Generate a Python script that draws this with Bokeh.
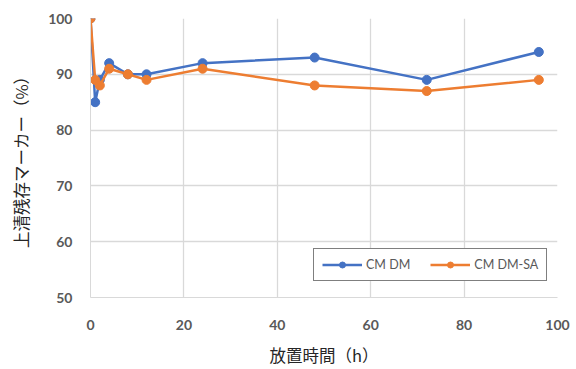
from bokeh.plotting import figure
from bokeh.models import Range1d, Legend, LegendItem, FixedTicker
from bokeh.embed import file_html
from bokeh.resources import INLINE

# elapsed time (h) and residual marker in supernatant (%)
hours = [0, 1, 2, 4, 8, 12, 24, 48, 72, 96]
cmdm = [100, 85, 89, 92, 90, 90, 92, 93, 89, 94]
cmdm_sa = [100, 89, 88, 91, 90, 89, 91, 88, 87, 89]
series_names = ["CM DM", "CM DM-SA"]
x_ticks = [0, 20, 40, 60, 80, 100]
y_ticks = [50, 60, 70, 80, 90, 100]

BLUE = "#4472C4"
ORANGE = "#ED7D31"
GRID = "#d9d9d9"
TICK_TXT = "#595959"

p = figure(width=576, height=369, output_backend="svg", toolbar_location=None,
           x_range=Range1d(0, 100), y_range=Range1d(50, 100),
           min_border_left=90, min_border_right=19, min_border_top=18, min_border_bottom=70)
p.outline_line_color = None
p.background_fill_color = "white"
p.border_fill_color = "white"

for ax in (p.xaxis[0], p.yaxis[0]):
    ax.axis_line_color = GRID
    ax.major_tick_line_color = None
    ax.minor_tick_line_color = None
    ax.major_label_text_color = TICK_TXT
    ax.major_label_text_font = "Lato"
    ax.major_label_text_font_style = "bold"
    ax.major_label_text_font_size = "14px"
    ax.axis_label_text_font = "Noto Sans CJK JP"
    ax.axis_label_text_font_style = "normal"
    ax.axis_label_text_font_size = "16.5px"
    ax.axis_label_text_color = "#262626"

p.xaxis.ticker = FixedTicker(ticks=x_ticks)
p.yaxis.ticker = FixedTicker(ticks=y_ticks)
p.xaxis.major_label_standoff = 16
p.yaxis.major_label_standoff = 12
p.xaxis.axis_label = "放置時間（h）"
p.yaxis.axis_label = "上清残存マーカー（%）"
p.xaxis.axis_label_standoff = 10
p.yaxis.axis_label_standoff = 12

p.xgrid.ticker = FixedTicker(ticks=x_ticks[1:])
p.ygrid.ticker = FixedTicker(ticks=y_ticks[1:])
p.xgrid.grid_line_color = GRID
p.ygrid.grid_line_color = GRID
p.xgrid.grid_line_width = 1.3
p.ygrid.grid_line_width = 1.3

items = []
for vals, color, name in ((cmdm, BLUE, series_names[0]), (cmdm_sa, ORANGE, series_names[1])):
    ln = p.line(hours, vals, line_color=color, line_width=2.5)
    sc = p.scatter(hours, vals, size=9, fill_color=color, line_color=color)
    items.append(LegendItem(label=name, renderers=[ln, sc]))

legend = Legend(items=items, orientation="horizontal", location=(223, 16),
                border_line_color="black", border_line_width=1.3,
                label_text_font="Lato", label_text_font_size="12.5px",
                label_text_color=TICK_TXT, glyph_width=40, glyph_height=15,
                label_height=15, label_standoff=4, spacing=20,
                padding=8, margin=0, background_fill_alpha=1)
p.add_layout(legend)

open("out.html", "w").write(file_html(p, INLINE))
